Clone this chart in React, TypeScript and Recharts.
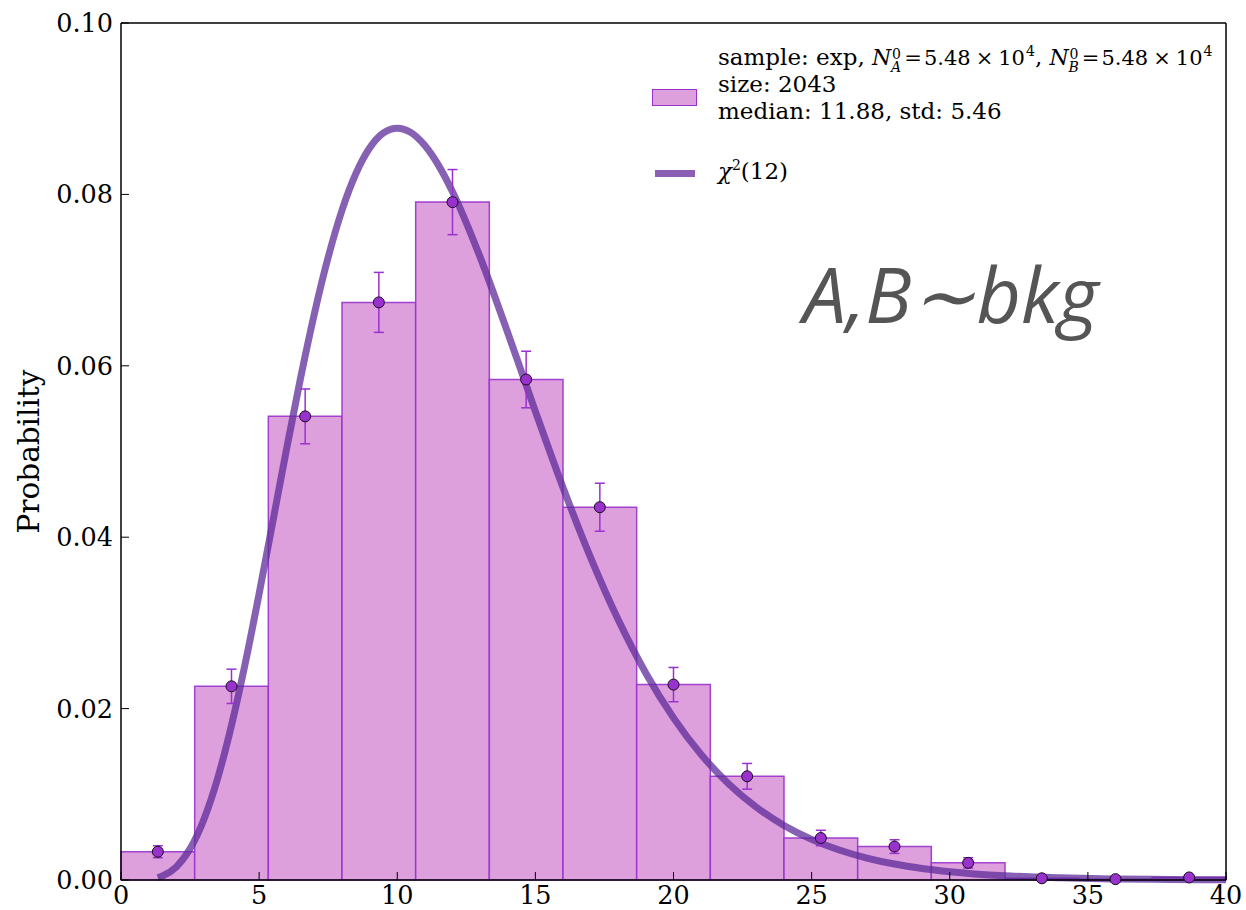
import {
  ComposedChart,
  Line,
  Scatter,
  ErrorBar,
  XAxis,
  YAxis,
  ReferenceArea,
} from "recharts";

// histogram bins (edges) and densities
const binEdges = [
  0, 2.667, 5.333, 8, 10.667, 13.333, 16, 18.667, 21.333, 24, 26.667, 29.333,
  32, 34.667, 37.333, 40,
];
const binValues = [
  0.0033, 0.0226, 0.0541, 0.0674, 0.0791, 0.0584, 0.0435, 0.0228, 0.0121,
  0.0049, 0.0039, 0.002, 0.0002, 0.0001, 0.0003,
];
const binErrors = [
  0.0007, 0.002, 0.0032, 0.0035, 0.0038, 0.0033, 0.0028, 0.002, 0.0015,
  0.0009, 0.0008, 0.0006, 0.0001, 0.0001, 0.0002,
];

// chi2(12) curve
const curveX = [
  1.33, 1.5, 2, 2.5, 3, 3.5, 4, 4.5, 5, 5.5, 6, 6.5, 7, 7.5, 8, 8.5, 9, 9.5,
  10, 10.5, 11, 11.5, 12, 13, 14, 15, 16, 17, 18, 19, 20, 21, 22, 23, 24, 25,
  26, 27, 28, 29, 30, 32, 34, 36, 38, 40,
];
const curveY = [
  0.00028, 0.00047, 0.00153, 0.00364, 0.00706, 0.01188, 0.01805, 0.02532,
  0.0334, 0.04189, 0.05041, 0.05858, 0.06608, 0.07267, 0.07815, 0.08241,
  0.08541, 0.08717, 0.08773, 0.08721, 0.0857, 0.08336, 0.08031, 0.07268,
  0.06386, 0.05469, 0.0458, 0.03762, 0.03036, 0.02413, 0.01892, 0.01464,
  0.01121, 0.00849, 0.00637, 0.00474, 0.0035, 0.00256, 0.00186, 0.00135,
  0.00097, 0.00049, 0.00025, 0.00012, 0.00006, 0.00003,
];

const xTicks = [0, 5, 10, 15, 20, 25, 30, 35, 40];
const yTicks = [0, 0.02, 0.04, 0.06, 0.08, 0.1];

const curveData = curveX.map((x, i) => ({ x, y: curveY[i] }));
const pointData = binValues.map((v, i) => ({
  x: (binEdges[i] + binEdges[i + 1]) / 2,
  y: v,
  err: binErrors[i],
}));

const serif = "'DejaVu Serif', serif";
const tickStyle = { fill: "#000", fontSize: 25.5, fontFamily: serif };

const Dot = (props: any) => (
  <circle
    cx={props.cx}
    cy={props.cy}
    r={5.5}
    fill="#9932cc"
    stroke="#1a0a24"
    strokeWidth={1}
  />
);

// N with superscript 0 and subscript letter
const NSym = ({ sub }: { sub: string }) => (
  <span style={{ position: "relative", display: "inline-block" }}>
    <span style={{ fontStyle: "italic", fontSize: 22 }}>N</span>
    <span style={{ display: "inline-block", width: 12 }} />
    <span
      style={{
        position: "absolute",
        left: 20,
        top: 3.5,
        fontSize: 14,
        lineHeight: "12px",
      }}
    >
      0
    </span>
    <span
      style={{
        position: "absolute",
        left: 19,
        top: 16.5,
        fontSize: 14,
        lineHeight: "12px",
        fontStyle: "italic",
      }}
    >
      {sub}
    </span>
  </span>
);

const Value = () => (
  <span style={{ fontSize: 21 }}>
    <span style={{ margin: "0 2px 0 1px" }}>=</span>5.48
    <span style={{ margin: "0 5px" }}>×</span>10
    <span
      style={{ fontSize: 14, position: "relative", top: -9, marginLeft: 1 }}
    >
      4
    </span>
  </span>
);

const App = () => {
  return (
    <div
      style={{
        position: "absolute",
        left: 0,
        top: 0,
        width: 1246,
        height: 910,
        background: "#fff",
      }}
    >
      <ComposedChart
        width={1246}
        height={910}
        margin={{ top: 22, right: 10, bottom: 0, left: 41 }}
      >
        <XAxis
          xAxisId="b"
          dataKey="x"
          type="number"
          domain={[0, 40]}
          ticks={xTicks}
          allowDataOverflow
          tickSize={-8}
          tickMargin={14}
          height={30}
          tick={tickStyle}
          stroke="#000"
          axisLine={{ stroke: "#000", strokeWidth: 1.5 }}
        />
        <XAxis
          xAxisId="t"
          orientation="top"
          dataKey="x"
          type="number"
          domain={[0, 40]}
          ticks={xTicks}
          tickSize={-8}
          tick={false}
          height={1}
          stroke="#000"
          axisLine={{ stroke: "#000", strokeWidth: 1.5 }}
        />
        <YAxis
          yAxisId="l"
          type="number"
          domain={[0, 0.1]}
          ticks={yTicks}
          tickSize={-8}
          tickMargin={16}
          width={80}
          tick={tickStyle}
          tickFormatter={(v: number) => v.toFixed(2)}
          stroke="#000"
          axisLine={{ stroke: "#000", strokeWidth: 1.5 }}
          label={{
            value: "Probability",
            angle: -90,
            position: "insideLeft",
            offset: -12,
            style: {
              fontFamily: serif,
              fontSize: 29.5,
              fill: "#000",
              textAnchor: "middle",
            },
          }}
        />
        <YAxis
          yAxisId="r"
          orientation="right"
          type="number"
          domain={[0, 0.1]}
          ticks={yTicks}
          tickSize={-8}
          tick={false}
          width={10}
          stroke="#000"
          axisLine={{ stroke: "#000", strokeWidth: 1.5 }}
        />
        {binValues.map((v, i) => (
          <ReferenceArea
            key={i}
            xAxisId="b"
            yAxisId="l"
            x1={binEdges[i]}
            x2={binEdges[i + 1]}
            y1={0}
            y2={v}
            fill="#dda0dd"
            fillOpacity={1}
            stroke="#9932cc"
            strokeWidth={1.5}
            strokeOpacity={0.9}
            ifOverflow="visible"
          />
        ))}
        <Line
          xAxisId="b"
          yAxisId="l"
          data={curveData}
          dataKey="y"
          type="monotone"
          stroke="#5e2b9a"
          strokeOpacity={0.75}
          strokeWidth={7}
          dot={false}
          activeDot={false}
          isAnimationActive={false}
        />
        <Scatter
          xAxisId="b"
          yAxisId="l"
          data={pointData}
          dataKey="y"
          shape={Dot}
          isAnimationActive={false}
        >
          <ErrorBar
            dataKey="err"
            direction="y"
            width={5}
            stroke="#9932cc"
            strokeWidth={1.5}
            isAnimationActive={false}
          />
        </Scatter>
      </ComposedChart>

      {/* legend */}
      <div
        style={{
          position: "absolute",
          left: 652,
          top: 89,
          width: 45,
          height: 17,
          background: "#dda0dd",
          border: "1.5px solid #9932cc",
          boxSizing: "border-box",
        }}
      />
      <div
        style={{
          position: "absolute",
          left: 718,
          top: 44,
          fontFamily: serif,
          fontSize: 23,
          lineHeight: "27px",
          color: "#000",
          whiteSpace: "nowrap",
        }}
      >
        <div style={{ height: 27 }}>
          sample: exp, <NSym sub="A" />
          <Value />, <NSym sub="B" />
          <Value />
        </div>
        <div>size: 2043</div>
        <div>median: 11.88, std: 5.46</div>
      </div>
      <div
        style={{
          position: "absolute",
          left: 655,
          top: 170,
          width: 40,
          height: 7,
          background: "#8a5fb4",
        }}
      />
      <div
        style={{
          position: "absolute",
          left: 718,
          top: 158,
          fontFamily: serif,
          fontSize: 23,
          color: "#000",
          whiteSpace: "nowrap",
        }}
      >
        <span style={{ fontStyle: "italic" }}>χ</span>
        <span style={{ fontSize: 14, position: "relative", top: -9 }}>2</span>
        (12)
      </div>

      <div
        style={{
          position: "absolute",
          left: 803,
          top: 249,
          fontFamily: "'Open Sans', sans-serif",
          fontStyle: "italic",
          fontSize: 77,
          color: "#555555",
          whiteSpace: "nowrap",
          lineHeight: "90px",
        }}
      >
        A,B∼bkg
      </div>
    </div>
  );
};

export default App;
